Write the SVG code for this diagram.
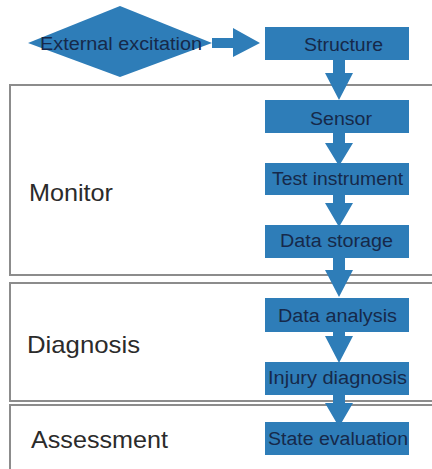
<svg xmlns="http://www.w3.org/2000/svg" width="432" height="469" viewBox="0 0 432 469">
  <style>
    .stage { fill: #ffffff; stroke: #8c8c8c; stroke-width: 2; }
    .stage-label { font-family: "Liberation Sans", Arial, sans-serif; font-size: 24px; fill: #2b2b2b; }
    .box { fill: #2e7db8; }
    .box-text { font-family: "Liberation Sans", Arial, sans-serif; font-size: 18px; fill: #16294a; }
    .arrow { fill: #2e7db8; }
  </style>
  <rect width="432" height="469" fill="#ffffff"/>

  <!-- stage frames -->
  <g id="stage-monitor">
    <rect class="stage" x="10" y="85" width="430" height="190"/>
    <text class="stage-label" x="29" y="201" textLength="84" lengthAdjust="spacingAndGlyphs">Monitor</text>
  </g>
  <g id="stage-diagnosis">
    <rect class="stage" x="10" y="283" width="430" height="118"/>
    <text class="stage-label" x="27" y="353" textLength="113" lengthAdjust="spacingAndGlyphs">Diagnosis</text>
  </g>
  <g id="stage-assessment">
    <rect class="stage" x="10" y="405" width="430" height="80"/>
    <text class="stage-label" x="31" y="448" textLength="137" lengthAdjust="spacingAndGlyphs">Assessment</text>
  </g>

  <!-- flow nodes -->
  <g id="external-excitation">
    <polygon class="box" points="28,43 120,6 212,43 120,77"/>
    <text class="box-text" x="40" y="50" textLength="162" lengthAdjust="spacingAndGlyphs">External excitation</text>
  </g>
  <g id="structure">
    <rect class="box" x="265" y="27" width="144" height="33"/>
    <text class="box-text" x="304" y="51" textLength="79" lengthAdjust="spacingAndGlyphs">Structure</text>
  </g>
  <g id="sensor">
    <rect class="box" x="265" y="100" width="144" height="33"/>
    <text class="box-text" x="310" y="125" textLength="62" lengthAdjust="spacingAndGlyphs">Sensor</text>
  </g>
  <g id="test-instrument">
    <rect class="box" x="265" y="163" width="144" height="32"/>
    <text class="box-text" x="272" y="185" textLength="131" lengthAdjust="spacingAndGlyphs">Test instrument</text>
  </g>
  <g id="data-storage">
    <rect class="box" x="265" y="225" width="144" height="33"/>
    <text class="box-text" x="280" y="247" textLength="113" lengthAdjust="spacingAndGlyphs">Data storage</text>
  </g>
  <g id="data-analysis">
    <rect class="box" x="265" y="298" width="144" height="34"/>
    <text class="box-text" x="278" y="322" textLength="119" lengthAdjust="spacingAndGlyphs">Data analysis</text>
  </g>
  <g id="injury-diagnosis">
    <rect class="box" x="265" y="362" width="144" height="33"/>
    <text class="box-text" x="268" y="384" textLength="139" lengthAdjust="spacingAndGlyphs">Injury diagnosis</text>
  </g>
  <g id="state-evaluation">
    <rect class="box" x="265" y="422" width="144" height="33"/>
    <text class="box-text" x="268" y="445" textLength="140" lengthAdjust="spacingAndGlyphs">State evaluation</text>
  </g>

  <!-- block arrows -->
  <g id="connectors">
    <polygon class="arrow" points="212,38 233,38 233,28 260,43 233,57 233,48 212,48"/>
    <polygon class="arrow" points="333,60 345,60 345,73 353,73 339,100 325,73 333,73"/>
    <polygon class="arrow" points="333,133 345,133 345,143 353,143 339,166 325,143 333,143"/>
    <polygon class="arrow" points="333,195 345,195 345,203 353,203 339,227 325,203 333,203"/>
    <polygon class="arrow" points="333,258 345,258 345,270 353,270 339,297 325,270 333,270"/>
    <polygon class="arrow" points="333,332 345,332 345,336 353,336 339,363 325,336 333,336"/>
    <polygon class="arrow" points="333,395 345,395 345,403 353,403 339,427 325,403 333,403"/>
  </g>
</svg>
